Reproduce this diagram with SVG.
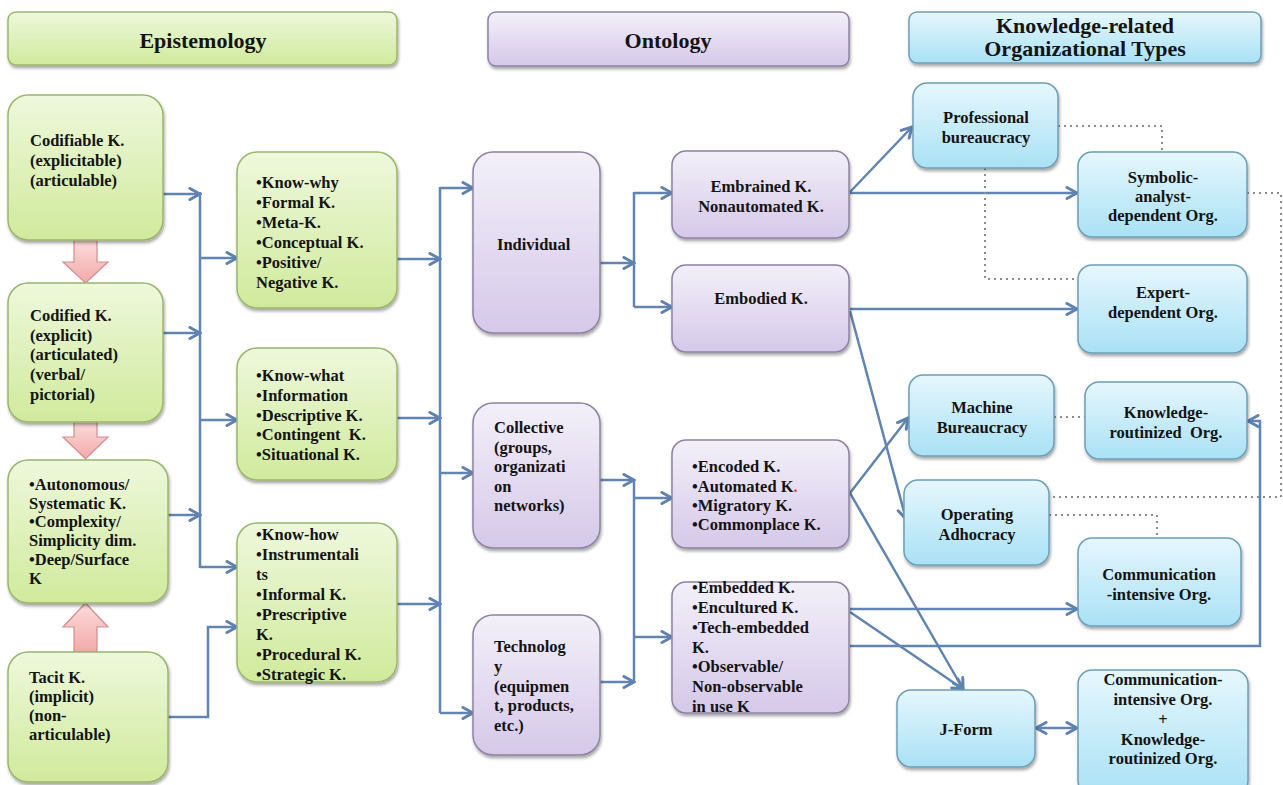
<svg xmlns="http://www.w3.org/2000/svg" width="1283" height="785" viewBox="0 0 1283 785">
  <defs>
    <linearGradient id="gGreen" x1="0" y1="0" x2="0" y2="1">
      <stop offset="0" stop-color="#eef8dc"/>
      <stop offset="1" stop-color="#d0ea9c"/>
    </linearGradient>
    <linearGradient id="gPurple" x1="0" y1="0" x2="0" y2="1">
      <stop offset="0" stop-color="#f3f0f9"/>
      <stop offset="1" stop-color="#d5c8e9"/>
    </linearGradient>
    <linearGradient id="gBlue" x1="0" y1="0" x2="0" y2="1">
      <stop offset="0" stop-color="#e6f7fd"/>
      <stop offset="1" stop-color="#a9e1f5"/>
    </linearGradient>
    <linearGradient id="gPink" x1="0" y1="0" x2="0" y2="1">
      <stop offset="0" stop-color="#fcdcdc"/>
      <stop offset="1" stop-color="#f3a9a9"/>
    </linearGradient>
    <filter id="shadow" x="-10%" y="-10%" width="125%" height="130%">
      <feDropShadow dx="1" dy="2.5" stdDeviation="1.6" flood-color="#000" flood-opacity="0.35"/>
    </filter>
    <marker id="arr" viewBox="0 0 14 14" refX="12" refY="7" markerWidth="14" markerHeight="14" markerUnits="userSpaceOnUse" orient="auto-start-reverse">
      <path d="M2,1.5 L12,7 L2,12.5" fill="none" stroke="#5f82b1" stroke-width="3" stroke-linejoin="miter" stroke-linecap="round"/>
    </marker>
    <style>
      .green { fill: url(#gGreen); stroke: #9cb56c; stroke-width: 1.5; filter: url(#shadow); }
      .purple { fill: url(#gPurple); stroke: #8d82a3; stroke-width: 1.5; filter: url(#shadow); }
      .blue { fill: url(#gBlue); stroke: #6e9fb8; stroke-width: 1.5; filter: url(#shadow); }
      .pink { fill: url(#gPink); stroke: #d58d8d; stroke-width: 1.2; }
      text { font-family: "Liberation Serif", "Times New Roman", serif; font-weight: bold; fill: #141414; }
      .t { font-size: 16.5px; }
      .h { font-size: 22px; }
      .c { text-anchor: middle; }
      .conn { fill: none; stroke: #6185b2; stroke-width: 2.5; }
      .arrow { marker-end: url(#arr); }
      .dot { fill: none; stroke: #8c8c8c; stroke-width: 2; stroke-dasharray: 2 4; }
    </style>
  </defs>

  <rect width="1283" height="785" fill="#ffffff"/>

  <!-- column headers -->
  <g id="hdr-epistemology">
    <rect class="green" x="8" y="12" width="389" height="53" rx="8"/>
    <text class="h c" x="203" y="48">Epistemology</text>
  </g>
  <g id="hdr-ontology">
    <rect class="purple" x="488" y="12" width="361" height="54" rx="8"/>
    <text class="h c" x="668" y="48">Ontology</text>
  </g>
  <g id="hdr-orgtypes">
    <rect class="blue" x="909" y="12" width="352" height="51" rx="8"/>
    <text class="h c" x="1085" y="33">Knowledge-related</text>
    <text class="h c" x="1085" y="56">Organizational Types</text>
  </g>

  <!-- connectors -->
  <g id="connectors">
    <!-- epistemology: source boxes to left bus -->
    <path class="conn arrow" d="M163,194 H200"/>
    <path class="conn arrow" d="M163,333 H200"/>
    <path class="conn arrow" d="M168,515 H200"/>
    <path class="conn" d="M200,192 V568"/>
    <path class="conn arrow" d="M200,258 H237"/>
    <path class="conn arrow" d="M200,420 H237"/>
    <path class="conn arrow" d="M200,567 H237"/>
    <path class="conn arrow" d="M168,717 H208 V627 H237"/>

    <!-- epistemology to ontology bus -->
    <path class="conn arrow" d="M397,259 H440"/>
    <path class="conn arrow" d="M397,418 H440"/>
    <path class="conn arrow" d="M397,604 H440"/>
    <path class="conn" d="M440,187 V713"/>
    <path class="conn arrow" d="M440,188 H473"/>
    <path class="conn arrow" d="M440,473 H473"/>
    <path class="conn arrow" d="M440,713 H473"/>

    <!-- individual branch -->
    <path class="conn arrow" d="M600,263 H634"/>
    <path class="conn" d="M634,192 V307"/>
    <path class="conn arrow" d="M634,193 H672"/>
    <path class="conn arrow" d="M634,307 H672"/>

    <!-- collective / technology branch -->
    <path class="conn arrow" d="M600,480 H634"/>
    <path class="conn arrow" d="M600,682 H634"/>
    <path class="conn" d="M634,480 V682"/>
    <path class="conn arrow" d="M634,498 H672"/>
    <path class="conn arrow" d="M634,637 H672"/>

    <!-- ontology to organizational types -->
    <path class="conn arrow" d="M850,192 L912,127"/>
    <path class="conn arrow" d="M850,193 H1077"/>
    <path class="conn arrow" d="M850,309 H1077"/>
    <path class="conn arrow" d="M850,311 L906,519"/>
    <path class="conn arrow" d="M850,493 L908,418"/>
    <path class="conn arrow" d="M850,493 L963,689"/>
    <path class="conn arrow" d="M850,612 L963,689"/>
    <path class="conn arrow" d="M850,609 H1077"/>
    <path class="conn arrow" d="M850,646 H1260 V421 H1248"/>
    <path class="conn arrow" d="M1036,728 H1077" marker-start="url(#arr)"/>

    <!-- dotted relations between organizational types -->
    <path class="dot" d="M1058,126 H1162 V152"/>
    <path class="dot" d="M985,168 V279 H1078"/>
    <path class="dot" d="M1247,193 H1281 V497 H1049"/>
    <path class="dot" d="M1054,417 H1085"/>
    <path class="dot" d="M1049,515 H1157 V538"/>
  </g>

  <!-- pink transition arrows -->
  <g id="transition-arrows">
    <path class="pink" d="M74,240 H97 V262 H108 L85.5,283 L63,262 H74 Z"/>
    <path class="pink" d="M74,422 H97 V437 H108 L85.5,459 L63,437 H74 Z"/>
    <path class="pink" d="M74,652 H97 V627 H108 L85.5,603 L63,627 H74 Z"/>
  </g>

  <!-- epistemology nodes -->
  <g id="codifiable">
    <rect class="green" x="8" y="95" width="155" height="145" rx="20"/>
    <text class="t" x="30" y="146">Codifiable K.</text>
    <text class="t" x="30" y="166">(explicitable)</text>
    <text class="t" x="30" y="186">(articulable)</text>
  </g>
  <g id="codified">
    <rect class="green" x="8" y="283" width="155" height="139" rx="20"/>
    <text class="t" x="30" y="321">Codified K.</text>
    <text class="t" x="30" y="341">(explicit)</text>
    <text class="t" x="30" y="360">(articulated)</text>
    <text class="t" x="30" y="380">(verbal/</text>
    <text class="t" x="30" y="400">pictorial)</text>
  </g>
  <g id="autonomous">
    <rect class="green" x="8" y="460" width="160" height="143" rx="20"/>
    <text class="t" x="29" y="490">•Autonomous/</text>
    <text class="t" x="29" y="509">Systematic K.</text>
    <text class="t" x="29" y="527">•Complexity/</text>
    <text class="t" x="29" y="546">Simplicity dim.</text>
    <text class="t" x="29" y="565">•Deep/Surface</text>
    <text class="t" x="29" y="584">K</text>
  </g>
  <g id="tacit">
    <rect class="green" x="8" y="652" width="160" height="130" rx="20"/>
    <text class="t" x="29" y="683">Tacit K.</text>
    <text class="t" x="29" y="702">(implicit)</text>
    <text class="t" x="29" y="721">(non-</text>
    <text class="t" x="29" y="740">articulable)</text>
  </g>
  <g id="know-why">
    <rect class="green" x="237" y="152" width="160" height="156" rx="20"/>
    <text class="t" x="256" y="188">•Know-why</text>
    <text class="t" x="256" y="208">•Formal K.</text>
    <text class="t" x="256" y="228">•Meta-K.</text>
    <text class="t" x="256" y="248">•Conceptual K.</text>
    <text class="t" x="256" y="268">•Positive/</text>
    <text class="t" x="256" y="288">Negative K.</text>
  </g>
  <g id="know-what">
    <rect class="green" x="237" y="348" width="160" height="132" rx="20"/>
    <text class="t" x="256" y="381">•Know-what</text>
    <text class="t" x="256" y="401">•Information</text>
    <text class="t" x="256" y="421">•Descriptive K.</text>
    <text class="t" x="256" y="440" xml:space="preserve">•Contingent  K.</text>
    <text class="t" x="256" y="460">•Situational K.</text>
  </g>
  <g id="know-how">
    <rect class="green" x="237" y="523" width="160" height="159" rx="20"/>
    <text class="t" x="256" y="540">•Know-how</text>
    <text class="t" x="256" y="560">•Instrumentali</text>
    <text class="t" x="256" y="580">ts</text>
    <text class="t" x="256" y="600">•Informal K.</text>
    <text class="t" x="256" y="620">•Prescriptive</text>
    <text class="t" x="256" y="640">K.</text>
    <text class="t" x="256" y="660">•Procedural K.</text>
    <text class="t" x="256" y="680">•Strategic K.</text>
  </g>

  <!-- ontology nodes -->
  <g id="individual">
    <rect class="purple" x="473" y="152" width="127" height="181" rx="20"/>
    <text class="t" x="497" y="250">Individual</text>
  </g>
  <g id="collective">
    <rect class="purple" x="473" y="403" width="127" height="145" rx="20"/>
    <text class="t" x="494" y="433">Collective</text>
    <text class="t" x="494" y="453">(groups,</text>
    <text class="t" x="494" y="472">organizati</text>
    <text class="t" x="494" y="492">on</text>
    <text class="t" x="494" y="511">networks)</text>
  </g>
  <g id="technology">
    <rect class="purple" x="473" y="615" width="127" height="140" rx="20"/>
    <text class="t" x="494" y="652">Technolog</text>
    <text class="t" x="494" y="672">y</text>
    <text class="t" x="494" y="692">(equipmen</text>
    <text class="t" x="494" y="711">t, products,</text>
    <text class="t" x="494" y="731">etc.)</text>
  </g>
  <g id="embrained">
    <rect class="purple" x="672" y="151" width="177" height="87" rx="14"/>
    <text class="t c" x="761" y="192">Embrained K.</text>
    <text class="t c" x="761" y="212">Nonautomated K.</text>
  </g>
  <g id="embodied">
    <rect class="purple" x="672" y="265" width="177" height="87" rx="14"/>
    <text class="t c" x="761" y="304">Embodied K.</text>
  </g>
  <g id="encoded">
    <rect class="purple" x="672" y="440" width="177" height="108" rx="14"/>
    <text class="t" x="692" y="472">•Encoded K.</text>
    <text class="t" x="692" y="492">•Automated K<tspan fill="#e0403a">.</tspan></text>
    <text class="t" x="692" y="511">•Migratory K.</text>
    <text class="t" x="692" y="530">•Commonplace K.</text>
  </g>
  <g id="embedded">
    <rect class="purple" x="672" y="582" width="177" height="131" rx="14"/>
    <text class="t" x="692" y="593">•Embedded K.</text>
    <text class="t" x="692" y="613">•Encultured K.</text>
    <text class="t" x="692" y="633">•Tech-embedded</text>
    <text class="t" x="692" y="653">K.</text>
    <text class="t" x="692" y="672">•Observable/</text>
    <text class="t" x="692" y="692">Non-observable</text>
    <text class="t" x="692" y="712">in use K</text>
  </g>

  <!-- organizational type nodes -->
  <g id="professional-bureaucracy">
    <rect class="blue" x="913" y="83" width="145" height="85" rx="14"/>
    <text class="t c" x="986" y="123">Professional</text>
    <text class="t c" x="986" y="143">bureaucracy</text>
  </g>
  <g id="symbolic-analyst">
    <rect class="blue" x="1078" y="152" width="169" height="85" rx="14"/>
    <text class="t c" x="1163" y="183">Symbolic-</text>
    <text class="t c" x="1163" y="202">analyst-</text>
    <text class="t c" x="1163" y="221">dependent Org.</text>
  </g>
  <g id="expert-dependent">
    <rect class="blue" x="1078" y="265" width="169" height="88" rx="14"/>
    <text class="t c" x="1163" y="298">Expert-</text>
    <text class="t c" x="1163" y="318">dependent Org.</text>
  </g>
  <g id="machine-bureaucracy">
    <rect class="blue" x="909" y="375" width="145" height="81" rx="14"/>
    <text class="t c" x="982" y="413">Machine</text>
    <text class="t c" x="982" y="433">Bureaucracy</text>
  </g>
  <g id="knowledge-routinized">
    <rect class="blue" x="1085" y="382" width="162" height="77" rx="14"/>
    <text class="t c" x="1166" y="418">Knowledge-</text>
    <text class="t c" x="1166" y="438" xml:space="preserve">routinized  Org.</text>
  </g>
  <g id="operating-adhocracy">
    <rect class="blue" x="904" y="480" width="145" height="85" rx="14"/>
    <text class="t c" x="977" y="520">Operating</text>
    <text class="t c" x="977" y="540">Adhocracy</text>
  </g>
  <g id="communication-intensive">
    <rect class="blue" x="1078" y="538" width="163" height="88" rx="14"/>
    <text class="t c" x="1159" y="580">Communication</text>
    <text class="t c" x="1159" y="600">-intensive Org.</text>
  </g>
  <g id="j-form">
    <rect class="blue" x="897" y="690" width="138" height="77" rx="14"/>
    <text class="t c" x="966" y="735">J-Form</text>
  </g>
  <g id="comm-plus-routinized">
    <rect class="blue" x="1078" y="670" width="170" height="125" rx="14"/>
    <text class="t c" x="1163" y="685">Communication-</text>
    <text class="t c" x="1163" y="705">intensive Org.</text>
    <text class="t c" x="1163" y="725">+</text>
    <text class="t c" x="1163" y="745">Knowledge-</text>
    <text class="t c" x="1163" y="764">routinized Org.</text>
  </g>
</svg>
